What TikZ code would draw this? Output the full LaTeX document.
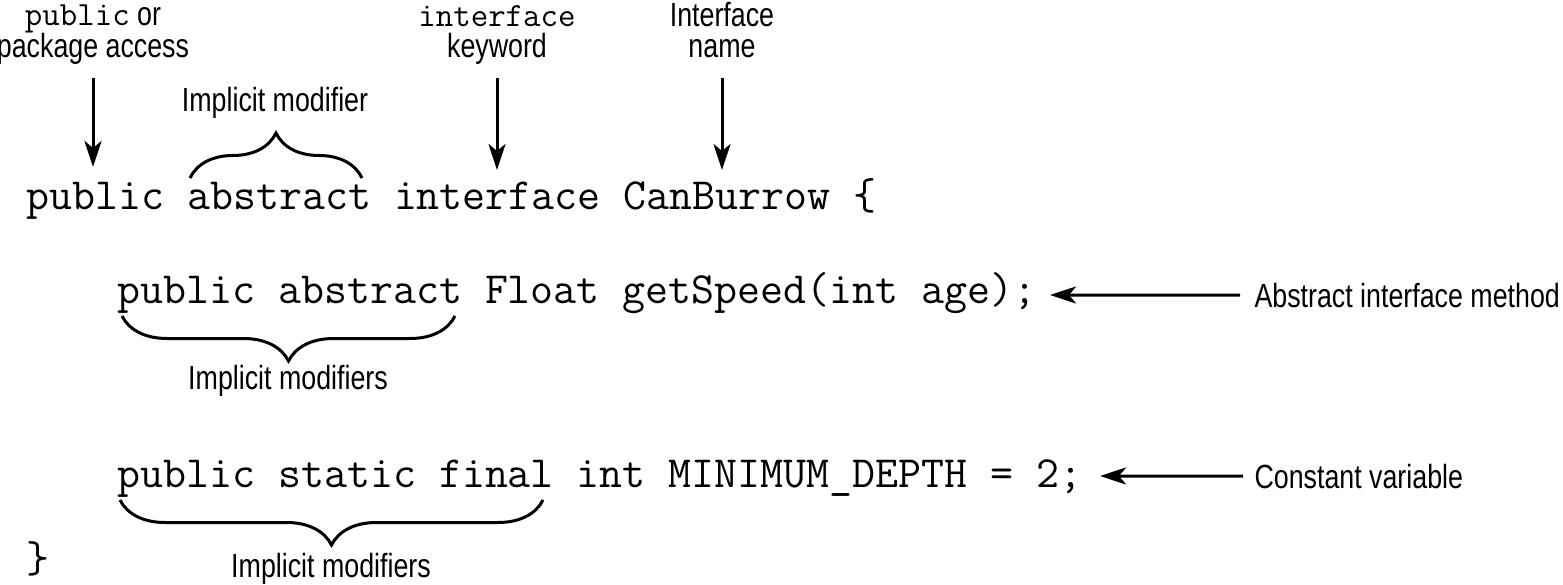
\documentclass[tikz,border=0pt]{standalone}
\usepackage{fontspec}
\setmainfont{Liberation Sans}[FakeStretch=0.8]
\usetikzlibrary{decorations.pathreplacing,arrows.meta}
\begin{document}
\begin{tikzpicture}[x=1pt,y=-1pt,line width=3pt,
  code/.style={font=\ttfamily\fontsize{44.6}{46}\selectfont,anchor=base west,inner sep=0pt},
  lab/.style={font=\fontsize{33.5}{31}\selectfont,inner sep=0pt,align=center},
  arr/.style={-{Stealth[length=26pt,width=17pt,inset=7pt]}},
  brc/.style={decorate,decoration={brace,amplitude=45pt}}]
\useasboundingbox (0,0) rectangle (1563,585);
\newcommand\kw[1]{{\ttfamily\fontsize{33.9}{30}\selectfont #1}}
% top labels (base = last line baseline)
\node[lab,anchor=base] (acc) at (93,58) {\kw{public} or\\package access};
\node[lab,anchor=base] (kwd) at (497,58) {\kw{interface}\\keyword};
\node[lab,anchor=base] (nam) at (722,58) {Interface\\name};
\node[lab,anchor=base] (imp1) at (275,112) {Implicit modifier};
% code
\node[code] (l1) at (25,210) {public abstract interface CanBurrow \{};
\node[code] (l2) at (116,303) {public abstract Float getSpeed(int age);};
\node[code] (l3) at (116,487) {public static final int MINIMUM\_DEPTH = 2;};
\node[code] (l4) at (25,572) {\}};
% right labels
\node[lab,anchor=base west] (aim) at (1253,307) {Abstract interface method};
\node[lab,anchor=base west] (cv) at (1253,488) {Constant variable};
\node[lab,anchor=base] (imp2) at (288,389) {Implicit modifiers};
\node[lab,anchor=base] (imp3) at (331,577) {Implicit modifiers};
% arrow tips
\coordinate (tA) at (93,167);
\coordinate (tK) at (497,170);
\coordinate (tN) at (722,170);
\coordinate (t2) at (1050,295);
\coordinate (t3) at (1100,476);
\draw[arr] ([yshift=-12pt]acc.south) -- (tA);
\draw[arr] ([yshift=-12pt]kwd.south) -- (tK);
\draw[arr] ([yshift=-18pt]nam.south) -- (tN);
\draw[arr] ([xshift=-13pt]aim.west) -- (t2);
\draw[arr] ([xshift=-10pt]cv.west) -- (t3);
% braces
\draw[brc] (190,178) -- (362,178);
\draw[brc] (455,316) -- (122,316);
\draw[brc] (543,500) -- (120,500);
\end{tikzpicture}
\end{document}
